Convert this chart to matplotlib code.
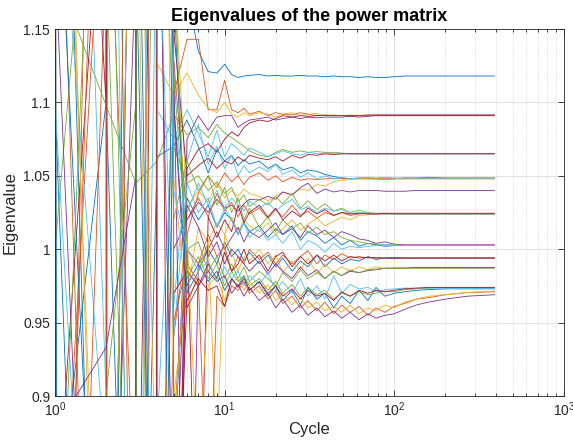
import numpy as np
import matplotlib
matplotlib.use("Agg")
from matplotlib import pyplot as plt
from matplotlib.ticker import LogLocator, FixedLocator, NullFormatter

cycles = [1, 2, 3, 4, 5,
          6, 7, 8, 9, 10, 11, 12, 13, 14,
          16, 18, 20, 22, 25, 28, 31, 35, 39, 44, 49, 55, 62, 70, 78, 88, 100,
          115, 135, 160, 200, 270, 390]

ev01 = [1.6, 0.4, -25, 1.0, 30,
        1.175, 1.135, 1.121, 1.120, 1.126, 1.119, 1.117, 1.118, 1.1185,
        1.119, 1.118, 1.1185, 1.118, 1.118, 1.1185, 1.118, 1.118, 1.1175, 1.118, 1.1175, 1.1175, 1.117, 1.1175, 1.117, 1.117, 1.1175,
        1.118, 1.118, 1.118, 1.118, 1.118, 1.118]
ev02 = [0.7, 1.3, 0.8, -20, 1.105,
        1.143, 1.143, 1.095, 1.095, 1.115, 1.095, 1.093, 1.096, 1.092,
        1.094, 1.091, 1.093, 1.092, 1.0915, 1.093, 1.092, 1.091, 1.0915, 1.091, 1.091, 1.0905, 1.091, 1.091, 1.091, 1.091, 1.091,
        1.091, 1.091, 1.091, 1.091, 1.091, 1.091]
ev03 = [1.5, 1.7, 40, 1.127, 1.105,
        1.120, 1.105, 1.096, 1.093, 1.100, 1.092, 1.090, 1.093, 1.091,
        1.093, 1.092, 1.090, 1.092, 1.093, 1.091, 1.092, 1.0925, 1.091, 1.0915, 1.091, 1.0915, 1.091, 1.091, 1.091, 1.091, 1.091,
        1.091, 1.091, 1.091, 1.091, 1.091, 1.091]
ev04 = [0.5, 0.6, 1.2, 35, 0.6,
        1.075, 1.091, 1.081, 1.090, 1.091, 1.091, 1.083, 1.086, 1.088,
        1.089, 1.090, 1.088, 1.089, 1.090, 1.089, 1.090, 1.0895, 1.090, 1.090, 1.090, 1.0905, 1.090, 1.0905, 1.091, 1.091, 1.091,
        1.091, 1.091, 1.091, 1.091, 1.091, 1.091]
ev05 = [1.19, 1.098, 1.045, 1.060, 1.092,
        1.078, 1.083, 1.076, 1.085, 1.079, 1.076, 1.073, 1.070, 1.067,
        1.064, 1.063, 1.066, 1.068, 1.066, 1.067, 1.066, 1.0665, 1.066, 1.066, 1.0655, 1.065, 1.065, 1.065, 1.065, 1.065, 1.065,
        1.065, 1.065, 1.065, 1.065, 1.065, 1.065]
ev06 = [1.3, 0.85, -30, 1.095, 1.075,
        1.095, 1.079, 1.063, 1.081, 1.063, 1.072, 1.068, 1.064, 1.069,
        1.066, 1.063, 1.065, 1.067, 1.065, 1.064, 1.066, 1.065, 1.0655, 1.065, 1.065, 1.065, 1.065, 1.065, 1.065, 1.065, 1.065,
        1.065, 1.065, 1.065, 1.065, 1.065, 1.065]
ev07 = [1.0, 25, 0.7, 1.5, 0.45,
        1.055, 1.068, 1.072, 1.066, 1.075, 1.080, 1.077, 1.083, 1.086,
        1.088, 1.087, 1.089, 1.091, 1.090, 1.091, 1.0905, 1.091, 1.091, 1.091, 1.091, 1.091, 1.091, 1.0915, 1.0915, 1.0915, 1.0915,
        1.0915, 1.0915, 1.0915, 1.0915, 1.0915, 1.0915]
ev08 = [0.8, 1.1, 0.5, 1.063, 1.07,
        1.088, 1.070, 1.052, 1.068, 1.060, 1.064, 1.057, 1.061, 1.058,
        1.060, 1.055, 1.058, 1.054, 1.056, 1.052, 1.054, 1.053, 1.051, 1.0495, 1.0485, 1.048, 1.0485, 1.048, 1.048, 1.0475, 1.048,
        1.0485, 1.0485, 1.049, 1.0485, 1.0485, 1.0485]
ev09 = [1.4, 0.3, 30, 0.6, 0.94,
        1.010, 1.038, 1.050, 1.042, 1.052, 1.046, 1.050, 1.044, 1.049,
        1.052, 1.047, 1.050, 1.046, 1.049, 1.047, 1.048, 1.0475, 1.048, 1.048, 1.048, 1.048, 1.048, 1.048, 1.048, 1.048, 1.048,
        1.048, 1.048, 1.048, 1.048, 1.048, 1.048]
ev10 = [1.8, -40, 1.3, 0.5, 1.2,
        1.028, 1.040, 1.032, 1.045, 1.035, 1.040, 1.036, 1.041, 1.038,
        1.036, 1.033, 1.036, 1.039, 1.037, 1.041, 1.040, 1.044, 1.043, 1.046, 1.047, 1.0475, 1.048, 1.048, 1.048, 1.0475, 1.048,
        1.048, 1.048, 1.048, 1.048, 1.048, 1.048]
ev11 = [0.4, 0.2, 1.6, -35, 1.0,
        1.020, 1.032, 1.025, 1.034, 1.028, 1.030, 1.026, 1.031, 1.034,
        1.0335, 1.036, 1.034, 1.039, 1.037, 1.042, 1.045, 1.038, 1.041, 1.039, 1.040, 1.039, 1.040, 1.040, 1.040, 1.0395, 1.0395,
        1.0395, 1.040, 1.040, 1.040, 1.040, 1.040]
ev12 = [1.7, 1.2, 0.6, 1.4, 1.07,
        1.045, 1.050, 1.040, 1.046, 1.038, 1.042, 1.032, 1.037, 1.029,
        1.034, 1.030, 1.036, 1.031, 1.038, 1.028, 1.033, 1.027, 1.031, 1.026, 1.028, 1.025, 1.0265, 1.025, 1.0245, 1.0245, 1.024,
        1.024, 1.024, 1.024, 1.024, 1.024, 1.024]
ev13 = [1.2, 50, 0.4, 30, 0.96,
        1.060, 1.085, 1.058, 1.070, 1.055, 1.064, 1.050, 1.057, 1.052,
        1.056, 1.053, 1.058, 1.051, 1.054, 1.049, 1.052, 1.048, 1.050, 1.048, 1.049, 1.048, 1.0485, 1.049, 1.0485, 1.049, 1.0485,
        1.0485, 1.0485, 1.0485, 1.0485, 1.0485, 1.0485]
ev14 = [0.3, 0.6, -25, 20, 1.15,
        1.050, 1.057, 1.062, 1.055, 1.060, 1.058, 1.063, 1.060, 1.064,
        1.062, 1.061, 1.063, 1.060, 1.064, 1.062, 1.0645, 1.064, 1.065, 1.0645, 1.065, 1.065, 1.065, 1.065, 1.065, 1.065, 1.065,
        1.065, 1.065, 1.065, 1.065, 1.065, 1.065]
ev15 = [1.1, 0.2, 1.9, -30, 0.85,
        1.035, 1.020, 1.030, 1.015, 1.025, 1.020, 1.010, 1.018, 1.012,
        1.016, 1.008, 1.014, 1.010, 1.016, 1.006, 1.012, 1.009, 1.004, 1.008, 1.003, 1.006, 1.002, 1.004, 1.003, 1.002, 1.0025,
        1.0025, 1.0025, 1.0025, 1.0025, 1.0025, 1.0025]
ev16 = [0.2, 1.9, 0.5, 0.3, 1.13,
        1.020, 1.035, 1.022, 1.038, 1.026, 1.032, 1.022, 1.030, 1.024,
        1.028, 1.021, 1.027, 1.022, 1.030, 1.023, 1.026, 1.021, 1.025, 1.023, 1.025, 1.023, 1.024, 1.0245, 1.024, 1.024, 1.024,
        1.024, 1.024, 1.024, 1.024, 1.024, 1.024]
ev17 = [1.3, 1.6, -20, 1.8, 0.9,
        0.970, 1.015, 1.005, 1.018, 1.010, 1.022, 1.012, 1.020, 1.016,
        1.012, 1.018, 1.010, 1.014, 1.020, 1.013, 1.017, 1.021, 1.016, 1.019, 1.022, 1.020, 1.023, 1.0235, 1.024, 1.024, 1.024,
        1.024, 1.024, 1.024, 1.024, 1.024, 1.024]
ev18 = [0.6, 0.7, 45, 1.9, 1.134,
        0.620, 0.990, 1.000, 1.012, 1.000, 1.008, 1.015, 1.005, 1.012,
        1.008, 1.013, 1.018, 1.010, 1.014, 1.008, 1.016, 1.010, 1.013, 1.008, 1.012, 1.010, 1.007, 1.006, 1.004, 1.005, 1.0035,
        1.003, 1.003, 1.003, 1.003, 1.003, 1.003]
ev19 = [1.0, 1.4, 0.6, -22, 1.02,
        1.060, 1.040, 1.050, 1.030, 1.042, 1.025, 1.035, 1.020, 1.028,
        1.015, 1.022, 1.012, 1.020, 1.014, 1.018, 1.011, 1.015, 1.010, 1.012, 1.008, 1.006, 1.005, 1.004, 1.0035, 1.003, 1.003,
        1.0025, 1.0025, 1.0025, 1.0025, 1.0025, 1.0025]
ev20 = [1.9, 0.9, 28, 0.88, 1.09,
        1.025, 1.045, 1.030, 1.040, 1.028, 1.035, 1.030, 1.026, 1.033,
        1.028, 1.032, 1.026, 1.030, 1.034, 1.027, 1.029, 1.025, 1.028, 1.026, 1.027, 1.024, 1.025, 1.0245, 1.024, 1.024, 1.024,
        1.024, 1.024, 1.024, 1.024, 1.024, 1.024]
ev21 = [0.8, 1.3, -40, 0.5, 0.70,
        1.010, 0.750, 1.022, 1.008, 1.020, 1.012, 1.030, 1.018, 1.025,
        1.030, 1.022, 1.028, 1.020, 1.026, 1.022, 1.028, 1.024, 1.027, 1.023, 1.025, 1.024, 1.0245, 1.024, 1.024, 1.0245, 1.0245,
        1.0245, 1.0245, 1.0245, 1.0245, 1.0245, 1.0245]
ev22 = [1.4, -15, 1.2, 0.6, 1.18,
        0.970, 0.985, 1.000, 0.990, 1.005, 0.995, 1.000, 0.992, 0.998,
        0.990, 0.996, 0.988, 0.994, 0.985, 0.992, 0.988, 0.996, 0.988, 0.994, 0.990, 0.993, 0.992, 0.995, 0.993, 0.994, 0.9935,
        0.994, 0.994, 0.994, 0.994, 0.994, 0.994]
ev23 = [0.5, 1.5, 1.8, 35, 0.88,
        1.000, 0.990, 1.010, 0.995, 1.002, 0.985, 0.995, 0.990, 1.000,
        0.993, 0.998, 0.990, 0.996, 0.990, 0.995, 0.999, 0.990, 0.996, 0.993, 0.997, 0.994, 0.995, 0.994, 0.9945, 0.994, 0.9945,
        0.994, 0.994, 0.994, 0.994, 0.994, 0.994]
ev24 = [1.6, 0.5, 0.7, -30, 1.05,
        0.960, 0.985, 1.005, 0.860, 1.010, 0.998, 0.985, 0.995, 0.992,
        1.000, 0.990, 0.996, 0.984, 0.992, 0.986, 0.994, 0.983, 0.990, 0.984, 0.988, 0.985, 0.988, 0.986, 0.988, 0.987, 0.9875,
        0.9875, 0.9875, 0.9875, 0.9875, 0.9875, 0.9875]
ev25 = [1.2, 0.4, 25, 1.3, 0.80,
        1.030, 1.015, 0.995, 1.005, 0.990, 1.000, 0.995, 0.990, 0.985,
        0.992, 0.983, 0.990, 0.985, 0.980, 0.988, 0.982, 0.986, 0.980, 0.985, 0.982, 0.985, 0.984, 0.9855, 0.986, 0.987, 0.987,
        0.987, 0.9875, 0.9875, 0.9875, 0.9875, 0.9875]
ev26 = [0.3, 0.9, 1.1, 40, 1.12,
        1.000, 1.005, 0.985, 0.995, 0.980, 0.990, 0.980, 0.988, 0.978,
        0.985, 0.980, 0.975, 0.984, 0.978, 0.986, 0.980, 0.984, 0.980, 0.985, 0.982, 0.986, 0.984, 0.986, 0.9865, 0.987, 0.987,
        0.987, 0.987, 0.987, 0.987, 0.987, 0.987]
ev27 = [1.25, 1.7, 0.4, 1.25, 0.94,
        1.045, 1.025, 1.035, 1.015, 1.028, 1.020, 1.010, 1.018, 1.008,
        1.014, 1.006, 1.010, 1.004, 1.012, 1.000, 1.006, 1.003, 0.998, 1.004, 1.000, 1.002, 1.001, 1.002, 1.0025, 1.003, 1.0025,
        1.0025, 1.0025, 1.0025, 1.0025, 1.0025, 1.0025]
ev28 = [0.9, 30, 1.0, -20, 0.97,
        0.985, 0.975, 0.990, 0.980, 0.998, 0.985, 0.990, 1.000, 0.990,
        0.996, 0.985, 0.995, 0.998, 0.988, 0.995, 0.990, 0.996, 0.992, 0.996, 0.992, 0.995, 0.994, 0.9945, 0.994, 0.994, 0.994,
        0.994, 0.994, 0.994, 0.994, 0.994, 0.994]
ev29 = [1.3, 0.6, 1.4, 0.5, 1.10,
        0.975, 0.990, 0.978, 0.985, 0.972, 0.980, 0.975, 0.982, 0.972,
        0.978, 0.968, 0.975, 0.965, 0.972, 0.962, 0.974, 0.966, 0.970, 0.960, 0.968, 0.963, 0.972, 0.965, 0.974, 0.968, 0.970,
        0.971, 0.972, 0.9725, 0.973, 0.973, 0.973]
ev30 = [0.2, 1.2, -20, 25, 0.95,
        0.990, 0.978, 0.800, 0.968, 0.961, 0.975, 0.972, 0.978, 0.970,
        0.975, 0.966, 0.972, 0.963, 0.968, 0.960, 0.965, 0.958, 0.964, 0.956, 0.962, 0.957, 0.961, 0.955, 0.960, 0.957, 0.961,
        0.963, 0.966, 0.967, 0.969, 0.9705, 0.971]
ev31 = [1.5, 0.6, 1.4, 0.8, 0.87,
        1.010, 0.840, 0.975, 0.982, 0.965, 0.978, 0.980, 0.972, 0.978,
        0.970, 0.976, 0.965, 0.970, 0.962, 0.967, 0.960, 0.964, 0.958, 0.961, 0.957, 0.962, 0.956, 0.960, 0.958, 0.962, 0.960,
        0.964, 0.966, 0.968, 0.969, 0.9705, 0.9715]
ev32 = [0.877, 0.933, 1.05, 35, 1.10,
        0.960, 0.975, 0.985, 0.978, 0.982, 0.970, 0.976, 0.968, 0.974,
        0.965, 0.970, 0.960, 0.966, 0.957, 0.962, 0.955, 0.960, 0.954, 0.958, 0.953, 0.957, 0.952, 0.956, 0.953, 0.955, 0.956,
        0.959, 0.962, 0.964, 0.966, 0.968, 0.969]
ev33 = [0.7, 1.5, 1.3, -25, 1.20,
        0.980, 0.995, 0.980, 0.990, 0.975, 0.985, 0.978, 0.982, 0.975,
        0.980, 0.972, 0.978, 0.970, 0.976, 0.968, 0.974, 0.969, 0.972, 0.966, 0.970, 0.968, 0.971, 0.969, 0.970, 0.9715, 0.971,
        0.9725, 0.973, 0.9735, 0.974, 0.974, 0.974]
ev34 = [1.1, 0.5, 0.4, 1.9, 1.04,
        1.000, 0.985, 0.992, 0.978, 0.988, 0.980, 0.985, 0.975, 0.982,
        0.976, 0.984, 0.972, 0.978, 0.970, 0.980, 0.968, 0.975, 0.966, 0.982, 0.970, 0.976, 0.973, 0.974, 0.971, 0.9725, 0.973,
        0.9735, 0.9735, 0.9735, 0.9735, 0.9735, 0.9735]
ev35 = [1.7, 1.1, 20, 0.3, 0.75,
        0.965, 0.980, 0.972, 0.975, 0.961, 0.980, 0.974, 0.980, 0.972,
        0.978, 0.970, 0.975, 0.968, 0.973, 0.966, 0.972, 0.968, 0.970, 0.965, 0.971, 0.968, 0.972, 0.970, 0.972, 0.971, 0.972,
        0.973, 0.9735, 0.974, 0.974, 0.974, 0.974]

eigs = [ev01, ev02, ev03, ev04, ev05, ev06, ev07, ev08, ev09, ev10, ev11, ev12,
        ev13, ev14, ev15, ev16, ev17, ev18, ev19, ev20, ev21, ev22, ev23, ev24,
        ev25, ev26, ev27, ev28, ev29, ev30, ev31, ev32, ev33, ev34, ev35]

# matlab default colour order
colors = ['#0072BD', '#D95319', '#EDB120', '#7E2F8E', '#77AC30', '#4DBEEE', '#A2142F']

plt.rcParams['font.family'] = ['Liberation Sans', 'DejaVu Sans']
plt.rcParams['mathtext.fontset'] = 'custom'
plt.rcParams['mathtext.rm'] = 'Liberation Sans'
plt.rcParams['mathtext.default'] = 'regular'
txt = '#262626'

fig = plt.figure(figsize=(5.73, 4.40), dpi=100)
ax = fig.add_axes([0.096, 0.100, 0.888, 0.834])

for i, ev in enumerate(eigs):
    ax.plot(cycles, ev, color=colors[i % 7], lw=0.6)

ax.set_xscale('log')
ax.set_xlim(1, 1000)
ax.set_ylim(0.9, 1.15)
ax.yaxis.set_major_locator(FixedLocator([0.9, 0.95, 1.0, 1.05, 1.1, 1.15]))
ax.set_yticklabels(['0.9', '0.95', '1', '1.05', '1.1', '1.15'])
ax.xaxis.set_major_locator(LogLocator(base=10, numticks=10))
ax.xaxis.set_minor_locator(LogLocator(base=10, subs=np.arange(2, 10), numticks=10))
ax.xaxis.set_minor_formatter(NullFormatter())

ax.grid(True, which='major', color=txt, alpha=0.15, lw=0.6)
ax.grid(True, which='minor', axis='x', color=txt, alpha=0.25, lw=0.5, ls=':')
ax.set_axisbelow(True)

ax.tick_params(which='both', direction='in', top=True, right=True, colors=txt,
               labelsize=10, width=0.6)
ax.tick_params(which='major', length=4)
ax.tick_params(which='minor', length=2)
for s in ax.spines.values():
    s.set_color(txt)
    s.set_linewidth(0.6)

ax.set_title('Eigenvalues of the power matrix', fontsize=13, fontweight='bold',
             color='black', pad=6)
ax.set_xlabel('Cycle', fontsize=12, color=txt, labelpad=2)
ax.set_ylabel('Eigenvalue', fontsize=12, color=txt, labelpad=4)

fig.savefig('out.png', dpi=100, facecolor='white')
